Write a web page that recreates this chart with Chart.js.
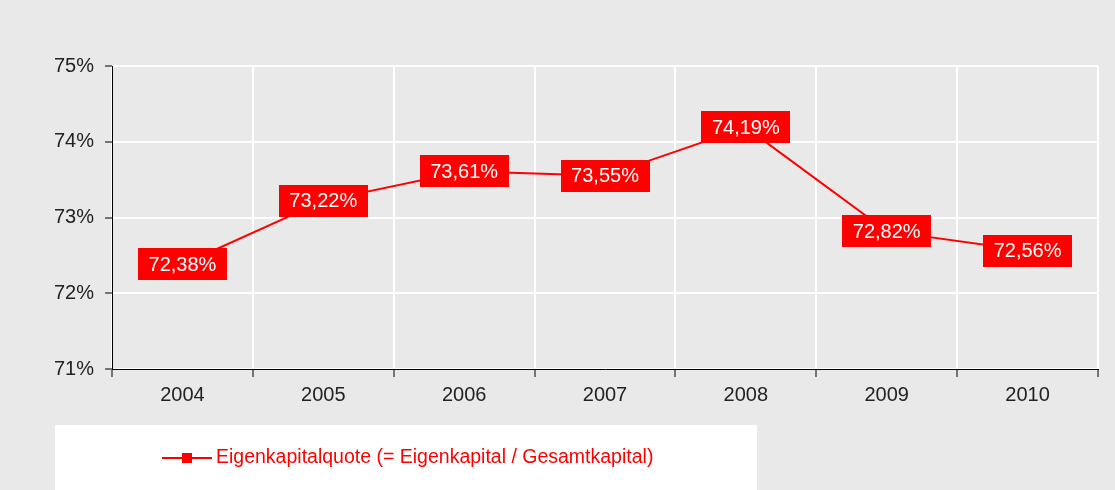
<!DOCTYPE html>
<html><head><meta charset="utf-8">
<script src="https://cdn.jsdelivr.net/npm/chart.js@4/dist/chart.umd.min.js"></script>
<style>html,body{margin:0;padding:0;background:#e9e9e9;}#wrap{width:1115px;height:490px;}</style>
</head><body><div id="wrap"><canvas id="c" width="1115" height="490"></canvas></div>
<script>
const categories = ['2004','2005','2006','2007','2008','2009','2010'];
const equityRatio = [72.38, 73.22, 73.61, 73.55, 74.19, 72.82, 72.56];
const yTicks = [71, 72, 73, 74, 75];
const seriesName = 'Eigenkapitalquote (= Eigenkapital / Gesamtkapital)';

const fmt = v => v.toFixed(2).replace('.', ',') + '%';
const FAMILY = '"Liberation Sans", Arial, sans-serif';

const bgPlugin = {
  id: 'bg',
  beforeDraw(chart) {
    const ctx = chart.ctx;
    ctx.save();
    ctx.fillStyle = '#e9e9e9';
    ctx.fillRect(0, 0, chart.width, chart.height);
    // legend box
    ctx.fillStyle = '#ffffff';
    ctx.fillRect(55, 425, 702, 65);
    const ly = 458;
    ctx.strokeStyle = '#ff0000';
    ctx.lineWidth = 2;
    ctx.beginPath(); ctx.moveTo(162, ly); ctx.lineTo(212, ly); ctx.stroke();
    ctx.fillStyle = '#ff0000';
    ctx.fillRect(182, ly - 5, 10, 10);
    ctx.font = '19.5px ' + FAMILY;
    ctx.textBaseline = 'middle';
    ctx.textAlign = 'left';
    ctx.fillText(chart.data.datasets[0].label, 216, ly);
    ctx.restore();
  }
};

const labelPlugin = {
  id: 'boxLabels',
  afterDatasetsDraw(chart) {
    const ctx = chart.ctx;
    const meta = chart.getDatasetMeta(0);
    const data = chart.data.datasets[0].data;
    ctx.save();
    ctx.font = '20px ' + FAMILY;
    ctx.textAlign = 'center';
    ctx.textBaseline = 'middle';
    meta.data.forEach((pt, i) => {
      const w = 89, h = 32;
      ctx.fillStyle = '#ff0000';
      ctx.fillRect(Math.round(pt.x - w / 2), Math.round(pt.y - h / 2), w, h);
      ctx.fillStyle = '#ffffff';
      ctx.fillText(fmt(data[i]), pt.x, pt.y + 1);
    });
    ctx.restore();
  }
};

new Chart(document.getElementById('c'), {
  type: 'line',
  data: {
    labels: categories,
    datasets: [{
      label: seriesName,
      data: equityRatio,
      borderColor: '#ff0000',
      backgroundColor: '#ff0000',
      borderWidth: 2,
      pointRadius: 0,
      tension: 0
    }]
  },
  options: {
    responsive: false,
    animation: false,
    layout: { padding: { left: 0, top: 66, right: 17, bottom: 81 } },
    plugins: { legend: { display: false }, tooltip: { enabled: false } },
    scales: {
      x: {
        offset: true,
        grid: { offset: true, color: '#ffffff', lineWidth: 2, tickColor: '#000000', tickLength: 8, tickWidth: 1 },
        border: { color: '#000000', width: 1 },
        ticks: { color: '#222222', font: { family: FAMILY, size: 20 }, padding: 6 },
        afterFit(s) { s.height = 40; }
      },
      y: {
        min: 71, max: 75,
        afterBuildTicks(s) { s.ticks = yTicks.map(v => ({ value: v })); },
        grid: { color: '#ffffff', lineWidth: 2, tickColor: '#000000', tickLength: 7, tickWidth: 1 },
        border: { color: '#000000', width: 1 },
        ticks: { color: '#222222', font: { family: FAMILY, size: 20 }, padding: 11, callback: v => v + '%' },
        afterFit(s) { s.width = 112; }
      }
    }
  },
  plugins: [bgPlugin, labelPlugin]
});
</script></body></html>
